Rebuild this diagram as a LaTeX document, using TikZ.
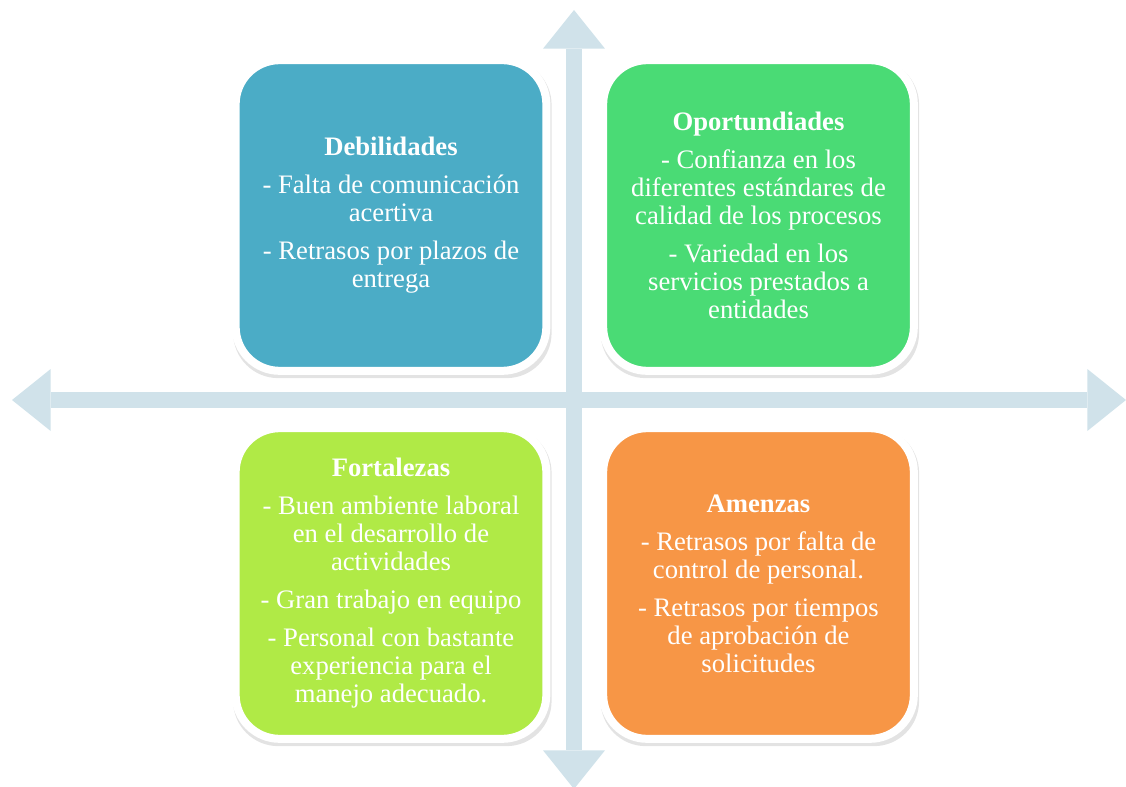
\documentclass[tikz,border=0pt]{standalone}
\usepackage{fontspec}
\setmainfont{Liberation Serif}
\usetikzlibrary{arrows.meta,shadows}
\definecolor{axisblue}{RGB}{208,226,234}
\definecolor{weakblue}{RGB}{75,172,198}
\definecolor{oppgreen}{RGB}{74,219,117}
\definecolor{strengthlime}{RGB}{176,234,70}
\definecolor{threatorange}{RGB}{247,150,70}

\begin{document}
\begin{tikzpicture}[x=0.75pt, y=-0.75pt,
  quad/.style={draw=white, line width=6pt, rounded corners=33pt,
    minimum width=233pt, minimum height=233pt, align=center, text=white,
    font=\fontsize{20}{21}\selectfont,
    drop shadow={shadow xshift=1pt, shadow yshift=-2.5pt,
      shadow scale=1.025, opacity=0.22}},
  axisarr/.style={axisblue, line width=12pt,
    {Triangle[width=46.5pt, length=29pt, line width=0pt]}-{Triangle[width=46.5pt, length=29pt, line width=0pt]}},
]
  \useasboundingbox (0,0) rectangle (1126,787);

  % axes
  \coordinate (west) at (12,400);
  \coordinate (east) at (1126,400);
  \coordinate (north) at (574,10);
  \coordinate (south) at (574,789);
  \draw[axisarr] (west) -- (east);
  \draw[axisarr] (north) -- (south);

  % quadrants
  \node[quad, fill=weakblue] (weak) at (391,215.5)
    {\textbf{Debilidades}\\[7.5pt]
     - Falta de comunicación\\ acertiva\\[7.5pt]
     - Retrasos por plazos de\\ entrega};
  \node[quad, fill=oppgreen] (opp) at (758.5,215.5)
    {\textbf{Oportundiades}\\[7.5pt]
     - Confianza en los\\ diferentes estándares de\\ calidad de los procesos\\[7.5pt]
     - Variedad en los\\ servicios prestados a\\ entidades};
  \node[quad, fill=strengthlime] (strength) at (391,583.5)
    {\textbf{Fortalezas}\\[7.5pt]
     - Buen ambiente laboral\\ en el desarrollo de\\ actividades\\[7.5pt]
     - Gran trabajo en equipo\\[7.5pt]
     - Personal con bastante\\ experiencia para el\\ manejo adecuado.};
  \node[quad, fill=threatorange] (threat) at (758.5,583.5)
    {\textbf{Amenzas}\\[7.5pt]
     - Retrasos por falta de\\ control de personal.\\[7.5pt]
     - Retrasos por tiempos\\ de aprobación de\\ solicitudes};
\end{tikzpicture}
\end{document}
